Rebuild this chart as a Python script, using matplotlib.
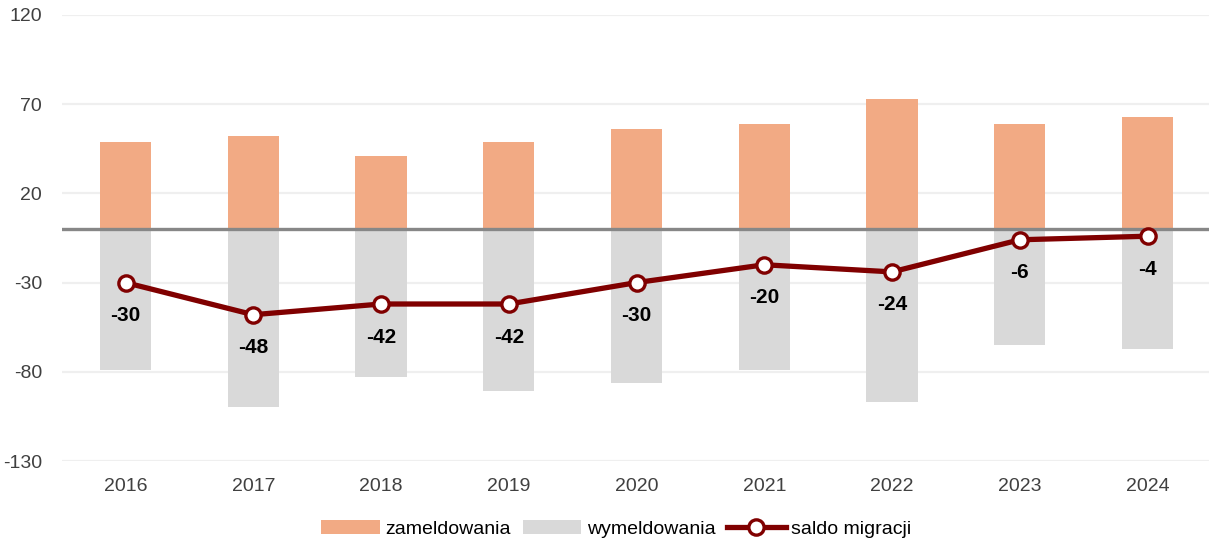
import numpy as np
import matplotlib.pyplot as plt

years = ["2016", "2017", "2018", "2019", "2020", "2021", "2022", "2023", "2024"]
zameldowania = [49, 52, 41, 49, 56, 59, 73, 59, 63]
wymeldowania = [-79, -100, -83, -91, -86, -79, -97, -65, -67]
saldo = [-30, -48, -42, -42, -30, -20, -24, -6, -4]

plt.rcParams['font.family'] = ['Liberation Sans', 'DejaVu Sans']
plt.rcParams['axes.unicode_minus'] = False

fig = plt.figure(figsize=(12.09, 5.39), dpi=100)
ax = fig.add_axes([0.051, 0.1447, 0.951, 0.8275])

x = np.arange(len(years))
b1 = ax.bar(x, zameldowania, width=0.4, color='#F2AA84', label='zameldowania', zorder=2)
b2 = ax.bar(x, wymeldowania, width=0.4, color='#D9D9D9', label='wymeldowania', zorder=2)
ax.axhline(0, color='#878787', lw=2.4, zorder=3)
ln, = ax.plot(x, saldo, color='#800000', lw=3.8, marker='o', ms=11,
              mfc='white', mec='#800000', mew=2.4, label='saldo migracji', zorder=4)

for xi, v in zip(x, saldo):
    ax.annotate(str(v), (xi, v), xytext=(0, -33), textcoords='offset pixels',
                ha='center', va='center', fontsize=15, fontweight='bold',
                color='black', zorder=5)

ax.set_xlim(-0.5, len(years) - 0.5)
ax.set_ylim(-130, 120)
ax.set_yticks([120, 70, 20, -30, -80, -130])
ax.set_xticks(x)
ax.set_xticklabels(years)
ax.tick_params(axis='both', length=0, labelsize=14, colors='#404040')
ax.tick_params(axis='x', pad=12)
ax.tick_params(axis='y', pad=14)
ax.grid(axis='y', color='#EFEFEF', lw=1.6, zorder=0)
ax.set_axisbelow(True)
for s in ax.spines.values():
    s.set_visible(False)

fig.legend([b1, b2, ln], ['zameldowania', 'wymeldowania', 'saldo migracji'],
           loc='lower center', bbox_to_anchor=(0.51, -0.03), ncol=3,
           frameon=False, fontsize=14, handlelength=3.0,
           handletextpad=0.3, columnspacing=0.6)

fig.savefig('out.png', dpi=100)
